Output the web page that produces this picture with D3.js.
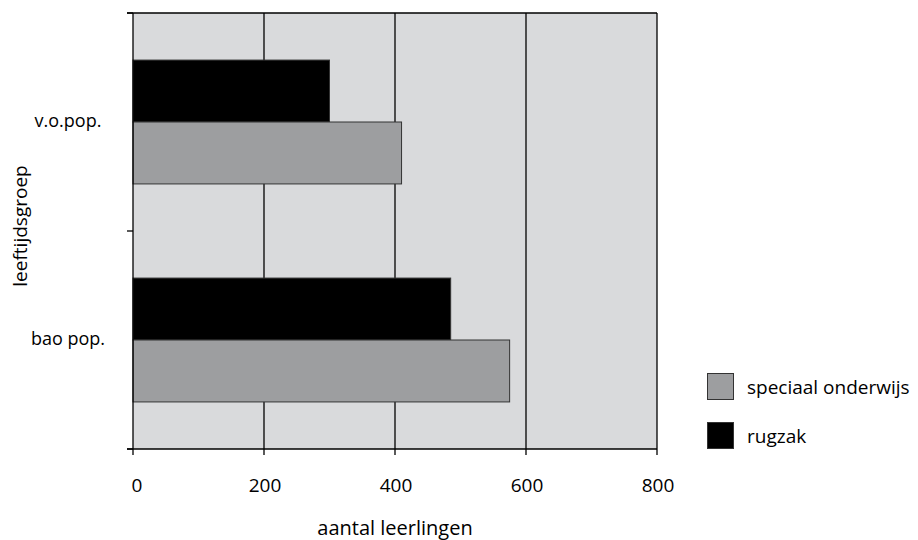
<!DOCTYPE html>
<html><head><meta charset="utf-8">
<script src="https://cdn.jsdelivr.net/npm/d3@7"></script>
<style>
body{margin:0;background:#fff;}
text{font-family:"Open Sans",sans-serif;fill:#000;}
</style></head><body>
<svg id="c" width="918" height="540"></svg>
<script>
const categories = ["v.o.pop.", "bao pop."];
const seriesNames = ["rugzak", "speciaal onderwijs"];
const rugzak = [300, 485];
const speciaal = [410, 575];
const xTicks = [0, 200, 400, 600, 800];
const xTitle = "aantal leerlingen";
const yTitle = "leeftijdsgroep";

const colors = {"rugzak": "#000000", "speciaal onderwijs": "#9d9ea0"};
const values = {"rugzak": rugzak, "speciaal onderwijs": speciaal};

const svg = d3.select("#c");
const L = 133, R = 657, T = 13, B = 449;
const x = d3.scaleLinear().domain([0, 800]).range([L, R]);
const y = d3.scaleBand().domain(categories).range([T, B]).paddingInner(0).paddingOuter(0);
const inner = d3.scaleBand().domain(seriesNames).range([0, y.bandwidth()]).paddingInner(0).paddingOuter(0.76);

svg.append("rect").attr("x", L).attr("y", T).attr("width", R - L).attr("height", B - T).attr("fill", "#d9dadc");

// gridlines
svg.append("g").selectAll("line").data(xTicks.slice(1)).join("line")
  .attr("x1", d => x(d)).attr("x2", d => x(d)).attr("y1", T).attr("y2", B)
  .attr("stroke", "#000").attr("stroke-width", 1.3);

// bars
categories.forEach((c, i) => {
  seriesNames.forEach(s => {
    svg.append("rect")
      .attr("x", x(0)).attr("y", y(c) + inner(s))
      .attr("width", x(values[s][i]) - x(0)).attr("height", inner.bandwidth())
      .attr("fill", colors[s]).attr("stroke", "#333").attr("stroke-width", 1);
  });
});

// top border
svg.append("line").attr("x1", L - 6).attr("x2", R).attr("y1", T).attr("y2", T).attr("stroke", "#000").attr("stroke-width", 1.3);

// y axis
const yAxisG = svg.append("g");
yAxisG.append("line").attr("x1", L).attr("x2", L).attr("y1", T).attr("y2", B).attr("stroke", "#000").attr("stroke-width", 1.3);
const yTickPos = [T, T + y.bandwidth(), B];
yAxisG.selectAll("line.t").data(yTickPos).join("line").attr("class", "t")
  .attr("x1", L - 6).attr("x2", L).attr("y1", d => d).attr("y2", d => d).attr("stroke", "#000").attr("stroke-width", 1.3);
yAxisG.selectAll("text").data(categories).join("text")
  .attr("x", 68).attr("y", d => y(d) + y.bandwidth() / 2 + 5)
  .attr("text-anchor", "middle")
  .attr("font-size", 18).text(d => d);

// x axis
const xAxisG = svg.append("g");
xAxisG.append("line").attr("x1", L - 6).attr("x2", R).attr("y1", B).attr("y2", B).attr("stroke", "#000").attr("stroke-width", 1.3);
xAxisG.selectAll("line.t").data(xTicks).join("line").attr("class", "t")
  .attr("x1", d => x(d)).attr("x2", d => x(d)).attr("y1", B).attr("y2", B + 6).attr("stroke", "#000").attr("stroke-width", 1.3);
xAxisG.selectAll("text").data(xTicks).join("text")
  .attr("x", d => x(d) + (d === 0 ? 4 : 1)).attr("y", 492).attr("text-anchor", "middle")
  .attr("font-size", 19).text(d => d);

svg.append("text").attr("x", 395).attr("y", 535).attr("text-anchor", "middle").attr("font-size", 20).text(xTitle);
svg.append("text").attr("transform", "translate(27,226) rotate(-90)").attr("text-anchor", "middle").attr("font-size", 19).text(yTitle);

// legend
const legendItems = ["speciaal onderwijs", "rugzak"];
const lg = svg.append("g");
legendItems.forEach((s, i) => {
  const yy = 373 + i * 49;
  lg.append("rect").attr("x", 707.5).attr("y", yy + 0.5).attr("width", 26).attr("height", 26)
    .attr("fill", colors[s]).attr("stroke", "#333").attr("stroke-width", 1);
  lg.append("text").attr("x", 747).attr("y", yy + 21).attr("font-size", 19).text(s);
});
</script></body></html>
